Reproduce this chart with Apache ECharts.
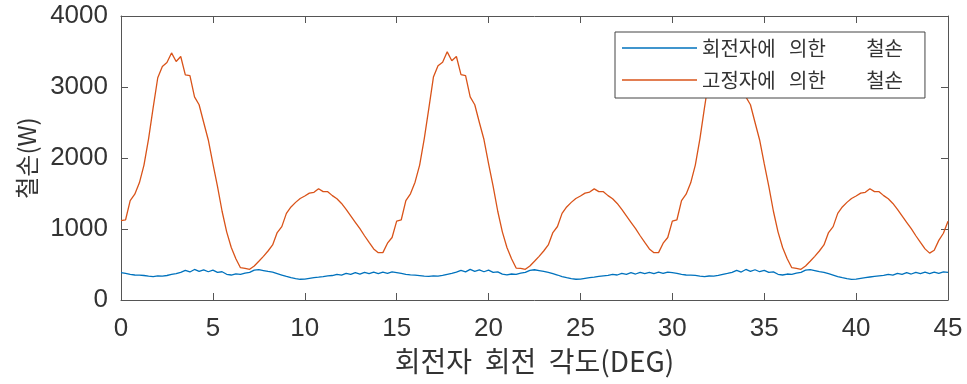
<!DOCTYPE html>
<html>
<head>
<meta charset="utf-8">
<script src="https://cdn.jsdelivr.net/npm/echarts@6/dist/echarts.min.js"></script>
<style>html,body{margin:0;padding:0;background:#fff;}#c{width:967px;height:384px;}</style>
</head>
<body>
<div id="c"></div>
<script>
// Rotor angle (deg)
var angles = [
0,0.25,0.5,0.75,1,1.25,1.5,1.75,2,2.25,2.5,2.75,3,3.25,3.5,3.75,4,4.25,4.5,4.75,
5,5.25,5.5,5.75,6,6.25,6.5,6.75,7,7.25,7.5,7.75,8,8.25,8.5,8.75,9,9.25,9.5,9.75,
10,10.25,10.5,10.75,11,11.25,11.5,11.75,12,12.25,12.5,12.75,13,13.25,13.5,13.75,14,14.25,14.5,14.75,
15,15.25,15.5,15.75,16,16.25,16.5,16.75,17,17.25,17.5,17.75,18,18.25,18.5,18.75,19,19.25,19.5,19.75,
20,20.25,20.5,20.75,21,21.25,21.5,21.75,22,22.25,22.5,22.75,23,23.25,23.5,23.75,24,24.25,24.5,24.75,
25,25.25,25.5,25.75,26,26.25,26.5,26.75,27,27.25,27.5,27.75,28,28.25,28.5,28.75,29,29.25,29.5,29.75,
30,30.25,30.5,30.75,31,31.25,31.5,31.75,32,32.25,32.5,32.75,33,33.25,33.5,33.75,34,34.25,34.5,34.75,
35,35.25,35.5,35.75,36,36.25,36.5,36.75,37,37.25,37.5,37.75,38,38.25,38.5,38.75,39,39.25,39.5,39.75,
40,40.25,40.5,40.75,41,41.25,41.5,41.75,42,42.25,42.5,42.75,43,43.25,43.5,43.75,44,44.25,44.5,44.75,
45
];
// Iron loss by rotor (W)
var rotorLoss = [
385,375,362,352,350,345,335,330,340,335,345,360,372,390,418,395,430,402,425,398,
420,388,398,362,352,368,360,378,388,420,428,415,402,392,372,352,332,315,302,292,
295,305,315,322,330,340,345,362,350,375,360,385,365,390,370,392,372,392,374,395,
385,375,362,354,350,344,336,332,340,336,346,360,374,392,416,396,432,404,424,398,
420,388,396,364,354,366,362,378,390,418,426,414,402,390,372,352,330,314,300,292,
294,304,314,322,332,340,346,360,352,374,362,384,366,390,372,390,372,392,374,394,
386,376,362,352,350,346,336,330,338,336,346,362,374,390,418,394,430,402,426,398,
418,388,396,362,352,366,362,380,390,420,428,414,400,390,370,350,330,314,300,290,
294,304,314,324,332,340,346,362,350,376,362,386,366,390,370,392,372,392,376,396,
388
];
// Iron loss by stator (W)
var statorLoss = [
1117,1130,1400,1490,1650,1900,2270,2710,3130,3290,3345,3480,3360,3430,3170,3160,2860,2750,2500,2254,
1920,1600,1250,960,740,580,455,446,432,480,545,615,690,775,950,1033,1220,1310,1375,1430,
1465,1505,1517,1568,1526,1526,1470,1425,1360,1275,1185,1095,1005,905,810,720,667,667,800,880,
1110,1130,1400,1495,1660,1900,2270,2700,3140,3300,3350,3495,3370,3430,3175,3160,2860,2750,2500,2260,
1920,1600,1250,960,740,580,450,446,432,480,545,615,690,775,950,1035,1220,1310,1375,1430,
1465,1505,1520,1565,1526,1526,1470,1425,1360,1275,1185,1095,1005,905,810,720,667,667,800,880,
1110,1130,1400,1490,1650,1900,2270,2710,3130,3290,3345,3480,3360,3430,3170,3160,2860,2750,2500,2254,
1920,1600,1250,960,740,580,455,446,432,480,545,615,690,775,950,1033,1220,1310,1375,1430,
1465,1505,1517,1568,1526,1526,1470,1425,1360,1275,1185,1095,1005,905,810,720,660,700,840,940,
1110
];
var seriesNames = ['회전자에 의한 철손', '고정자에 의한 철손'];
var legendLabels = ['회전자에   의한         철손', '고정자에   의한         철손'];
var xTitle = '회전자  회전  각도(DEG)';
var yTitle = '철손(W)';

function pairs(vals){ var out=[]; for(var i=0;i<angles.length;i++){ out.push([angles[i], vals[i]]); } return out; }

var axisColor = '#555';
var textColor = '#333';
var chart = echarts.init(document.getElementById('c'), null, {renderer:'canvas'});
var commonX = {type:'value', min:0, max:45, interval:5,
  axisLine:{show:true, onZero:false, lineStyle:{color:axisColor, width:1}},
  axisTick:{show:true, inside:true, length:7, lineStyle:{color:axisColor}},
  splitLine:{show:false}};
var commonY = {type:'value', min:0, max:4000, interval:1000,
  axisLine:{show:true, onZero:false, lineStyle:{color:axisColor, width:1}},
  axisTick:{show:true, inside:true, length:7, lineStyle:{color:axisColor}},
  splitLine:{show:false}};
chart.setOption({
  animation:false,
  backgroundColor:'#fff',
  grid:{left:121, right:19, top:16, bottom:84, containLabel:false},
  xAxis:[
    Object.assign({}, commonX, {position:'bottom',
      axisLabel:{show:true, margin:16, fontSize:26, color:textColor, fontFamily:'"Liberation Sans", Arial, sans-serif'},
      name:xTitle, nameLocation:'middle', nameGap:42,
      nameTextStyle:{fontSize:28, color:textColor, fontFamily:'"Noto Sans CJK KR", sans-serif'}}),
    Object.assign({}, commonX, {position:'top', axisLabel:{show:false}})
  ],
  yAxis:[
    Object.assign({}, commonY, {position:'left',
      axisLabel:{show:true, margin:13, fontSize:26, color:textColor, fontFamily:'"Liberation Sans", Arial, sans-serif',
        formatter:function(v){ return String(v); }},
      name:yTitle, nameLocation:'middle', nameGap:70, nameRotate:90,
      nameTextStyle:{fontSize:24, color:textColor, fontFamily:'"Noto Sans CJK KR", sans-serif'}}),
    Object.assign({}, commonY, {position:'right', axisLabel:{show:false}})
  ],
  legend:{
    show:true, orient:'vertical', left:615, top:32,
    padding:[6,22,8,7], itemGap:12, itemWidth:75, itemHeight:1.5, icon:'rect',
    backgroundColor:'#fff', borderColor:'#444', borderWidth:1, borderRadius:0,
    data:seriesNames,
    formatter:function(n){ return legendLabels[seriesNames.indexOf(n)]; },
    textStyle:{fontSize:20, lineHeight:20, color:textColor, fontFamily:'"Noto Sans CJK KR", sans-serif'}
  },
  series:[
    {name:seriesNames[0], type:'line', xAxisIndex:0, yAxisIndex:0, data:pairs(rotorLoss),
     symbol:'none', showSymbol:false, lineStyle:{color:'#0072BD', width:1.3}, itemStyle:{color:'#0072BD'}},
    {name:seriesNames[1], type:'line', xAxisIndex:0, yAxisIndex:0, data:pairs(statorLoss),
     symbol:'none', showSymbol:false, lineStyle:{color:'#D95319', width:1.3}, itemStyle:{color:'#D95319'}}
  ]
});
</script>
</body>
</html>
